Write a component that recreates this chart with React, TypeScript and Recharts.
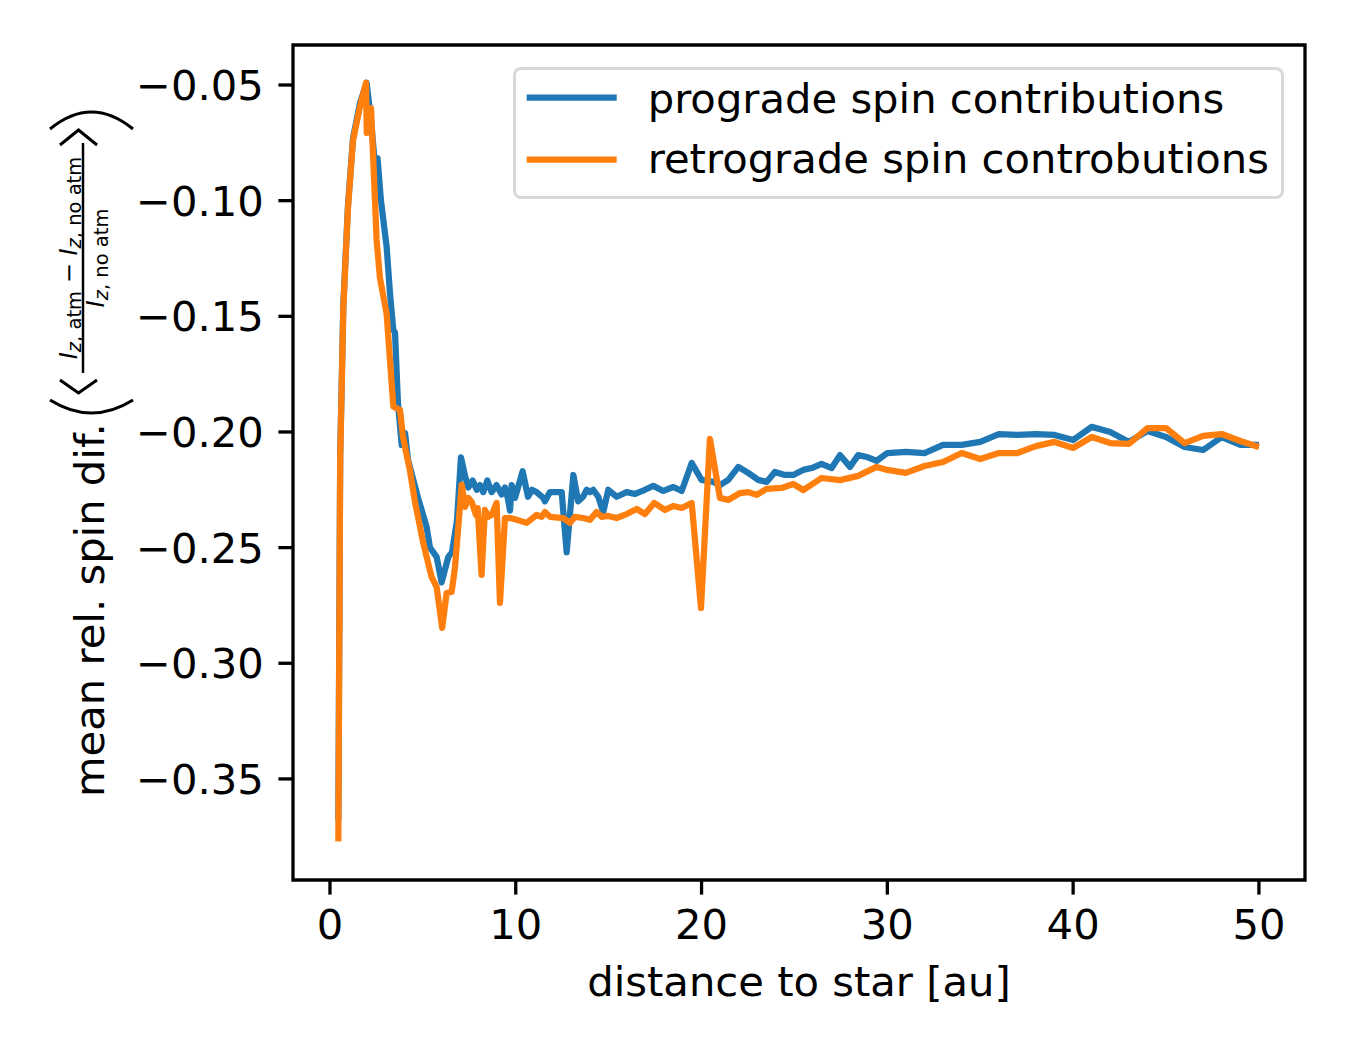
import React from 'react';
import { LineChart, Line, XAxis, YAxis, ReferenceArea } from 'recharts';

const FONT = 'DejaVu Sans';
const BLUE = '#1f77b4';
const ORANGE = '#ff7f0e';

// prograde spin contributions
const proX = [
  0.45, 0.55, 0.72, 0.97, 1.24, 1.61, 1.97,
  2.21, 2.42, 2.56, 2.74, 3.05, 3.23, 3.41, 3.5, 3.66, 3.86,
  4.04, 4.2, 4.74, 5.2, 5.38, 5.74, 6.01, 6.37, 6.57, 6.84,
  7.05, 7.27, 7.44, 7.68, 7.9, 8.07, 8.25, 8.47, 8.7, 8.97,
  9.24, 9.42, 9.58, 9.69, 9.78, 9.96, 10.37, 10.66, 10.87, 11.12,
  11.48, 11.57, 11.84, 12.16, 12.47, 12.74, 13.1, 13.36, 13.62, 13.82,
  13.99, 14.17, 14.44, 14.71, 14.98, 15.43, 15.97, 16.42, 16.95, 17.4,
  17.94, 18.48, 18.93, 19.47, 20.0, 20.63, 20.99, 21.44, 21.98, 22.51,
  23.05, 23.5, 23.95, 24.49, 24.94, 25.47, 25.93, 26.46, 27.0, 27.45,
  27.99, 28.43, 28.89, 29.42, 30,
  31, 32, 33, 34, 35, 36, 37, 38, 39, 40, 41, 42, 43, 44, 45, 46, 47, 48, 49, 50,
];
const proY = [
  -0.368, -0.21, -0.145, -0.102, -0.073, -0.058, -0.049,
  -0.065, -0.0846, -0.0816, -0.0997, -0.12, -0.14, -0.156, -0.157, -0.1875, -0.2056,
  -0.2004, -0.212, -0.2285, -0.241, -0.25, -0.254, -0.265, -0.254, -0.252, -0.238,
  -0.211, -0.219, -0.224, -0.221, -0.225, -0.223, -0.226, -0.221, -0.226, -0.223,
  -0.227, -0.224, -0.229, -0.234, -0.223, -0.2285, -0.217, -0.228, -0.225, -0.226,
  -0.2285, -0.23, -0.226, -0.226, -0.226, -0.252, -0.2186, -0.23, -0.228, -0.225,
  -0.226, -0.225, -0.228, -0.2346, -0.225, -0.228, -0.226, -0.2268, -0.225, -0.2233,
  -0.2255, -0.2238, -0.2255, -0.2134, -0.2207, -0.2216, -0.223, -0.2207, -0.2151, -0.2177,
  -0.2207, -0.2216, -0.2173, -0.2186, -0.2186, -0.2164, -0.2156, -0.2138, -0.2156, -0.21,
  -0.2151, -0.21, -0.2108, -0.2125, -0.2091,
  -0.2086, -0.2091, -0.2056, -0.2056, -0.2043, -0.2009, -0.2013, -0.2009, -0.2013, -0.2035,
  -0.1978, -0.2, -0.2043, -0.1996, -0.2022, -0.2065, -0.2078, -0.2022, -0.2056, -0.2056,
];

// retrograde spin contributions
const retroX = [
  0.45, 0.55, 0.72, 0.97, 1.24, 1.61, 1.94, 1.98, 2.21, 2.33,
  2.51, 2.69, 3.05, 3.23, 3.41, 3.77, 3.93, 4.13, 4.3, 4.57,
  5.02, 5.47, 5.74, 6.04, 6.28, 6.55, 6.73, 7.09, 7.27, 7.44,
  7.63, 7.86, 7.95, 8.16, 8.34, 8.52, 8.7, 8.97, 9.15, 9.42,
  9.69, 10.05, 10.59, 11.12, 11.39, 11.57, 11.84, 12.56, 12.92, 13.19,
  13.63, 13.99, 14.35, 14.62, 14.98, 15.43, 15.97, 16.51, 16.95, 17.45,
  18.03, 18.48, 18.93, 19.47, 19.97, 20.45, 20.99, 21.44, 22.07, 22.51,
  22.97, 23.5, 24.31, 24.94, 25.47, 26.46, 27.45, 28.43, 29.42, 30,
  31, 32, 33, 34, 35, 36, 37, 38, 39, 40, 41, 42, 43, 44, 45, 46, 47, 48, 49, 50,
];
const retroY = [
  -0.377, -0.212, -0.146, -0.103, -0.074, -0.0595, -0.049, -0.0707, -0.06, -0.0824,
  -0.117, -0.1334, -0.149, -0.169, -0.189, -0.1905, -0.202, -0.21, -0.2164, -0.23,
  -0.248, -0.2627, -0.267, -0.2847, -0.2696, -0.2692, -0.2584, -0.2229, -0.2324, -0.2285,
  -0.2303, -0.2359, -0.2329, -0.2618, -0.2337, -0.2367, -0.2359, -0.2307, -0.2739, -0.2372,
  -0.2372, -0.238, -0.2393, -0.2359, -0.2367, -0.2346, -0.2367, -0.2372, -0.2393, -0.2367,
  -0.2372, -0.238, -0.2346, -0.2367, -0.2363, -0.2372, -0.2355, -0.2333, -0.2355, -0.2307,
  -0.2337, -0.232, -0.2329, -0.2307, -0.2761, -0.203, -0.2285, -0.2294, -0.2264, -0.226,
  -0.2272, -0.2246, -0.2242, -0.2225, -0.2251, -0.2199, -0.2208, -0.219, -0.2151, -0.2164,
  -0.2177, -0.2147, -0.213, -0.2091, -0.2117, -0.2091, -0.2091, -0.2061, -0.2043, -0.2069,
  -0.2022, -0.2048, -0.2052, -0.1983, -0.1983, -0.2048, -0.2017, -0.2009, -0.2039, -0.2065,
];

const xTicks = [0, 10, 20, 30, 40, 50];
const yTicks = [-0.35, -0.3, -0.25, -0.2, -0.15, -0.1, -0.05];
const xDomain = [-1.99, 52.48];
const yDomain = [-0.3937, -0.0327];

const seriesNames = ['prograde spin contributions', 'retrograde spin controbutions'];

const proData = proX.map((x, i) => ({ x, y: proY[i] }));
const retroData = retroX.map((x, i) => ({ x, y: retroY[i] }));

const fmtY = (v: number) => v.toFixed(2).replace('-', '\u2212');

function XTick({ x, y, payload }: any) {
  return (
    <text x={x} y={y} dy={30} textAnchor="middle" fontFamily={FONT} fontSize={41.7} fill="#000">
      {payload.value}
    </text>
  );
}

function YTick({ x, y, payload }: any) {
  return (
    <text x={x} y={y} dy={15} textAnchor="end" fontFamily={FONT} fontSize={41.7} fill="#000">
      {fmtY(payload.value)}
    </text>
  );
}

// rotated y label, drawn in absolute page coords (u = distance up from bottom)
function YLabel() {
  const big = 24;
  const sub = 19.5;
  return (
    <g transform="translate(0,1050) rotate(-90)" fontFamily={FONT} fill="#000">
      <text x={253} y={104} fontSize={41.7}>mean rel. spin dif.</text>
      <path d="M650,50 Q624,91.5 650,133" stroke="#000" strokeWidth={3} fill="none" />
      <path d="M670,60 L657,78.5 L670,97" stroke="#000" strokeWidth={3} fill="none" />
      <text x={792} y={77} textAnchor="middle">
        <tspan fontSize={big} fontStyle="italic">I</tspan>
        <tspan fontSize={sub} dy={4}><tspan fontStyle="italic">z</tspan>, atm</tspan>
        <tspan fontSize={big} dy={-4}> {'\u2212'} </tspan>
        <tspan fontSize={big} fontStyle="italic">I</tspan>
        <tspan fontSize={sub} dy={4}><tspan fontStyle="italic">z</tspan>, no atm</tspan>
      </text>
      <line x1={677} x2={907} y1={83} y2={83} stroke="#000" strokeWidth={2.5} />
      <text x={792} y={104} textAnchor="middle">
        <tspan fontSize={big} fontStyle="italic">I</tspan>
        <tspan fontSize={sub} dy={4}><tspan fontStyle="italic">z</tspan>, no atm</tspan>
      </text>
      <path d="M905,60 L920,78.5 L905,97" stroke="#000" strokeWidth={3} fill="none" />
      <path d="M921,50 Q955,91.5 921,133" stroke="#000" strokeWidth={3} fill="none" />
    </g>
  );
}

function XLabel() {
  return (
    <text x={799} y={996} textAnchor="middle" fontFamily={FONT} fontSize={41.7} fill="#000">
      distance to star [au]
    </text>
  );
}

function LegendBox() {
  return (
    <div
      style={{
        position: 'absolute',
        left: 513,
        top: 67,
        width: 771,
        height: 132,
        border: '3.3px solid #d9d9d9',
        borderRadius: 8,
        boxSizing: 'border-box',
        background: 'rgba(255,255,255,0.8)',
      }}
    >
      <svg width={765} height={126} style={{ display: 'block' }}>
        <line x1={10.7} x2={100.7} y1={27.7} y2={27.7} stroke={BLUE} strokeWidth={6.25} />
        <text x={131.7} y={42.7} fontFamily={FONT} fontSize={41.7} fill="#000">{seriesNames[0]}</text>
        <line x1={10.7} x2={100.7} y1={89.7} y2={89.7} stroke={ORANGE} strokeWidth={6.25} />
        <text x={131.7} y={103} fontFamily={FONT} fontSize={41.7} fill="#000">{seriesNames[1]}</text>
      </svg>
    </div>
  );
}

export default function App() {
  return (
    <div style={{ position: 'absolute', left: 0, top: 0, width: 1350, height: 1050, background: '#fff' }}>
      <LineChart width={1350} height={1050} margin={{ top: 45, right: 45, bottom: 110, left: 143 }}>
        <XAxis
          type="number"
          dataKey="x"
          domain={xDomain}
          ticks={xTicks}
          allowDataOverflow
          height={60}
          axisLine={false}
          tickSize={14.6}
          tickMargin={14.6}
          tickLine={{ stroke: '#000', strokeWidth: 3.3 }}
          tick={<XTick />}
          label={<XLabel />}
        />
        <YAxis
          type="number"
          dataKey="y"
          domain={yDomain}
          ticks={yTicks}
          allowDataOverflow
          width={150}
          axisLine={false}
          tickSize={14.6}
          tickMargin={14.6}
          tickLine={{ stroke: '#000', strokeWidth: 3.3 }}
          tick={<YTick />}
          label={<YLabel />}
        />
        <Line
          data={proData}
          dataKey="y"
          name={seriesNames[0]}
          stroke={BLUE}
          strokeWidth={6.25}
          strokeLinejoin="round"
          dot={false}
          activeDot={false}
          isAnimationActive={false}
        />
        <Line
          data={retroData}
          dataKey="y"
          name={seriesNames[1]}
          stroke={ORANGE}
          strokeWidth={6.25}
          strokeLinejoin="round"
          dot={false}
          activeDot={false}
          isAnimationActive={false}
        />
        <ReferenceArea
          x1={xDomain[0]}
          x2={xDomain[1]}
          y1={yDomain[0]}
          y2={yDomain[1]}
          fill="none"
          fillOpacity={0}
          stroke="#000"
          strokeWidth={3.3}
        />
      </LineChart>
      <LegendBox />
    </div>
  );
}
